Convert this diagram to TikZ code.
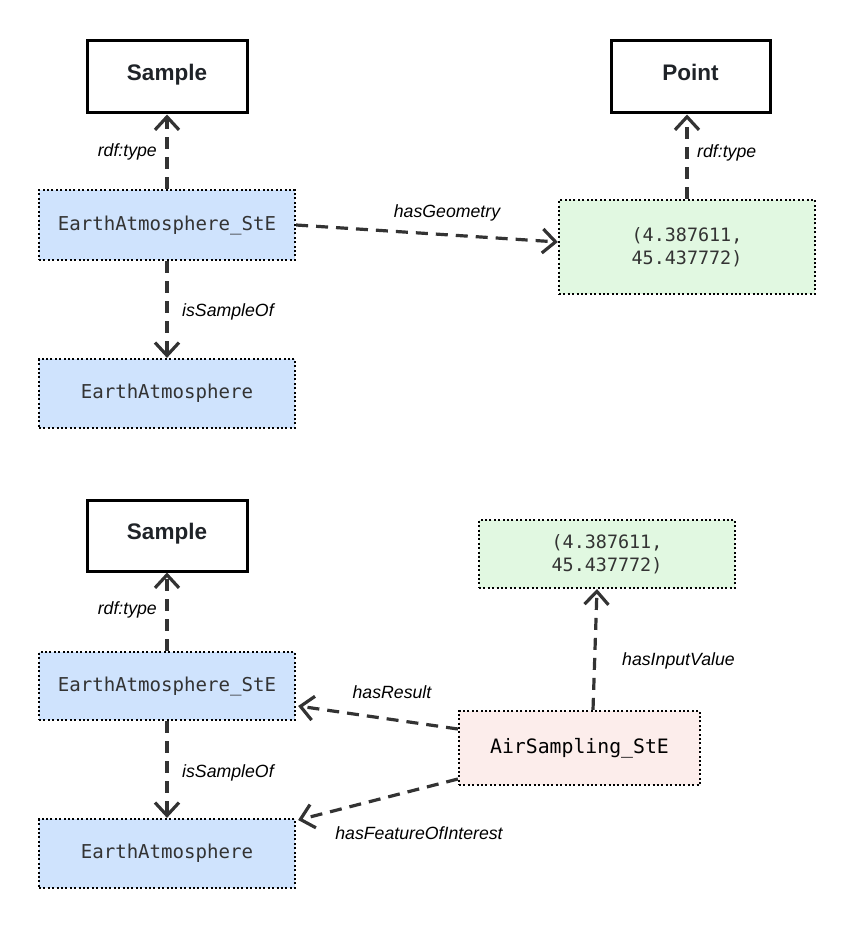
\documentclass[tikz,border=0pt]{standalone}
\usepackage{fontspec}
\setmainfont{Liberation Sans}
\setmonofont{DejaVu Sans Mono}
\usetikzlibrary{arrows.meta}
\definecolor{edgecol}{HTML}{333333}
\definecolor{bluefill}{HTML}{CFE3FD}
\definecolor{greenfill}{HTML}{E1F8E1}
\definecolor{pinkfill}{HTML}{FCEDEB}
\definecolor{monotext}{HTML}{333333}
\definecolor{titletext}{HTML}{1F2328}
\tikzset{
  classbox/.style={draw=black, line width=3pt, fill=white, minimum width=160pt, minimum height=72pt, inner sep=0pt,
    font=\fontsize{22.5}{26}\selectfont\bfseries, text=titletext, text height=16pt, text depth=8pt},
  instbox/.style={draw=black, line width=2.2pt, dash pattern=on 2pt off 2.4pt, minimum width=256pt, minimum height=69pt,
    inner sep=0pt, font=\fontsize{19.1}{23}\ttfamily, text=monotext, align=center},
  bluebox/.style={instbox, fill=bluefill},
  greenbox/.style={instbox, fill=greenfill, font=\fontsize{18.4}{23}\ttfamily},
  pinkbox/.style={instbox, fill=pinkfill, text=black, font=\fontsize{19.8}{25}\ttfamily},
  rel/.style={draw=edgecol, line width=3.2pt, dash pattern=on 12pt off 8pt,
    -{Straight Barb[length=13pt,width=24pt,line width=3.2pt]}},
  lbl/.style={font=\fontsize{17.7}{20}\selectfont\itshape, text=black, inner sep=0pt}
}
\begin{document}
\begin{tikzpicture}[x=1pt,y=-1pt]
\useasboundingbox (0,0) rectangle (855,928);
% nodes
\node[classbox] (s1) at (167,77) {Sample};
\node[classbox, minimum width=159pt] (pt) at (690.5,77) {Point};
\node[bluebox, minimum height=70pt] (ste1) at (167,225) {EarthAtmosphere\_StE};
\node[greenbox, minimum height=94pt] (g1) at (687,247) {(4.387611,\\45.437772)};
\node[bluebox] (ea1) at (167,393.5) {EarthAtmosphere};
\node[classbox, minimum height=71pt] (s2) at (167,535.5) {Sample};
\node[greenbox, minimum height=68pt] (g2) at (607,554) {(4.387611,\\45.437772)};
\node[bluebox, minimum height=68pt] (ste2) at (167,686) {EarthAtmosphere\_StE};
\node[pinkbox, minimum width=241pt, minimum height=74pt] (air) at (579.5,748) {AirSampling\_StE};
\node[bluebox] (ea2) at (167,853.5) {EarthAtmosphere};
% edges top
\draw[rel] (ste1.north) -- (s1.south);
\draw[rel] (ste1.east) -- ([yshift=5pt]g1.west);
\draw[rel] (g1.north) -- (g1.north |- pt.south);
\draw[rel] (ste1.south) -- (ea1.north);
% edges bottom
\draw[rel] (ste2.north) -- (s2.south);
\draw[rel] (ste2.south) -- (ea2.north);
\draw[rel] ([xshift=13.5pt]air.north) -- ([xshift=-10pt]g2.south);
\draw[rel] ([yshift=19pt]air.west) -- ([xshift=2pt,yshift=-20pt]ste2.east);
\draw[rel] ([yshift=-31pt]air.west) -- ([xshift=2pt,yshift=33.5pt]ea2.east);
% labels
\node[lbl, anchor=east] (l1) at (157,152) {rdf:type};
\node[lbl] (l2) at (447,213) {hasGeometry};
\node[lbl, anchor=west] (l3) at (697,153) {rdf:type};
\node[lbl, anchor=west] (l4) at (182,312) {isSampleOf};
\node[lbl, anchor=east] (l5) at (157,610) {rdf:type};
\node[lbl, anchor=west] (l6) at (182,773) {isSampleOf};
\node[lbl, anchor=west] (l7) at (622,661) {hasInputValue};
\node[lbl] (l8) at (392,692) {hasResult};
\node[lbl] (l9) at (419,833) {hasFeatureOfInterest};
\end{tikzpicture}
\end{document}
